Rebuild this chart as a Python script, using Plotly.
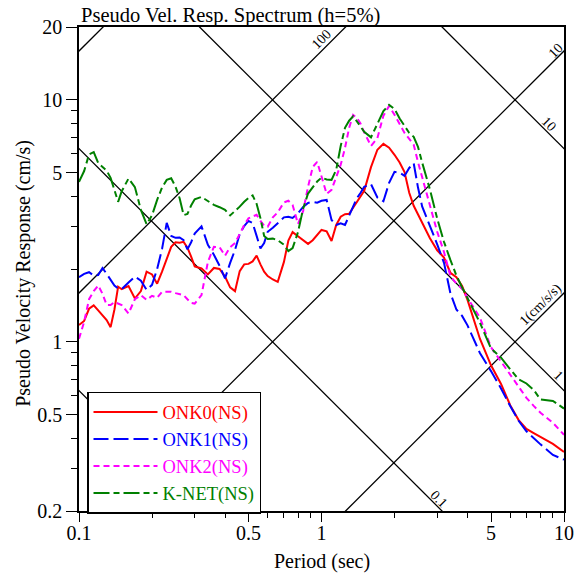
import numpy as np
import plotly.graph_objects as go

# ---------------- data ----------------
period = [0.10, 0.105, 0.11, 0.115, 0.12, 0.125, 0.13, 0.135, 0.14, 0.145, 0.15,
          0.16, 0.17, 0.18, 0.19, 0.20, 0.21, 0.22, 0.23, 0.24, 0.25, 0.26, 0.27, 0.28, 0.29, 0.30,
          0.32, 0.34, 0.36, 0.38, 0.40, 0.42, 0.44, 0.46, 0.48, 0.50, 0.52, 0.54, 0.56, 0.58, 0.60,
          0.63, 0.66, 0.70, 0.73, 0.76, 0.80, 0.84, 0.88, 0.92, 0.96,
          1.0, 1.05, 1.1, 1.15, 1.2, 1.25, 1.3, 1.35, 1.4, 1.45, 1.5,
          1.6, 1.7, 1.8, 1.9, 2.0, 2.1, 2.2, 2.3, 2.4, 2.5, 2.6,
          2.8, 3.0, 3.2, 3.4, 3.6, 3.8, 4.0,
          4.5, 5.0, 5.5, 6.0, 6.5, 7.0, 7.5, 8.0, 9.0, 10.0]

onk0 = [1.175, 1.22, 1.37, 1.415, 1.35, 1.29, 1.23, 1.15, 1.36, 1.69, 1.65,
        1.70, 1.51, 1.62, 1.95, 1.90, 1.74, 1.95, 2.18, 2.47, 2.58, 2.57, 2.59, 2.45, 2.25, 2.05,
        2.01, 1.90, 2.02, 2.00, 1.86, 1.68, 1.62, 1.96, 2.09, 2.10, 2.15, 2.27, 2.09, 1.95, 1.87,
        1.81, 1.77, 2.14, 2.62, 2.84, 2.73, 2.63, 2.54, 2.63, 2.78,
        2.90, 2.86, 2.61, 3.04, 3.29, 3.37, 3.38, 3.58, 3.77, 3.97, 4.21,
        5.27, 6.22, 6.58, 6.34, 5.93, 5.51, 5.03, 4.13, 3.65, 3.37, 3.09,
        2.68, 2.39, 2.23, 1.93, 1.85, 1.70, 1.49,
        1.03, 0.80, 0.67, 0.547, 0.475, 0.437, 0.42, 0.405, 0.379, 0.351]

onk1 = [1.85, 1.91, 1.94, 1.88, 1.89, 2.02, 1.91, 1.81, 1.71, 1.66, 1.65,
        1.76, 1.86, 1.79, 1.64, 1.72, 2.00, 2.42, 3.10, 2.74, 2.69, 2.70, 2.63, 2.41, 2.58, 2.80,
        3.00, 2.52, 2.29, 2.06, 1.83, 2.12, 2.40, 2.79, 3.01, 3.16, 3.10, 2.74, 2.43, 2.56, 2.85,
        2.96, 3.09, 3.27, 3.29, 3.25, 3.40, 3.61, 3.75, 3.79, 3.76,
        3.83, 3.86, 3.19, 3.04, 3.09, 3.04, 3.32, 3.63, 3.93, 4.13, 4.37,
        4.48, 3.95, 3.81, 4.54, 5.04, 5.00, 4.85, 5.23, 5.47, 4.34, 3.63,
        3.02, 2.53, 2.12, 1.59, 1.36, 1.28, 1.17,
        0.90, 0.757, 0.642, 0.543, 0.472, 0.427, 0.399, 0.377, 0.341, 0.326]

onk2 = [1.03, 1.21, 1.50, 1.62, 1.71, 1.58, 1.42, 1.42, 1.46, 1.44, 1.42,
        1.31, 1.50, 1.56, 1.49, 1.55, 1.52, 1.61, 1.61, 1.61, 1.59, 1.58, 1.56, 1.50, 1.45, 1.44,
        1.56, 2.14, 2.47, 2.46, 2.27, 2.46, 2.56, 2.79, 3.04, 3.24, 3.29, 3.35, 3.16, 3.02, 2.99,
        3.27, 3.43, 3.77, 3.83, 3.68, 3.07, 3.47, 4.37, 5.28, 5.54,
        4.86, 4.09, 4.25, 4.76, 5.39, 6.33, 7.66, 8.67, 8.42, 7.96, 7.34,
        6.45, 6.95, 8.60, 9.44, 8.67, 7.88, 7.30, 6.90, 6.52, 5.53, 4.81,
        3.70, 2.85, 2.35, 1.87, 1.74, 1.66, 1.52,
        1.26, 0.95, 0.83, 0.73, 0.65, 0.587, 0.544, 0.509, 0.463, 0.413]

knet = [4.58, 5.08, 5.95, 6.08, 5.48, 5.26, 5.10, 4.76, 4.25, 3.79, 4.19,
        4.73, 4.36, 3.51, 3.06, 3.33, 3.86, 4.34, 4.67, 4.74, 4.38, 3.92, 3.34, 3.38, 3.66, 3.88,
        3.97, 3.82, 3.68, 3.60, 3.51, 3.33, 3.46, 3.62, 3.79, 3.93, 4.03, 3.72, 3.24, 2.74, 2.66,
        2.67, 2.63, 2.52, 2.37, 2.44, 2.84, 3.55, 4.10, 4.33, 4.60,
        4.77, 4.69, 4.67, 5.14, 6.45, 7.66, 8.20, 8.55, 8.15, 7.77, 7.38,
        7.00, 7.90, 8.98, 9.53, 9.17, 8.37, 7.82, 7.30, 7.04, 6.39, 5.51,
        4.26, 3.23, 2.59, 2.18, 1.88, 1.68, 1.51,
        1.20, 0.94, 0.86, 0.77, 0.70, 0.673, 0.633, 0.578, 0.57, 0.53]

series_names = ["ONK0(NS)", "ONK1(NS)", "ONK2(NS)", "K-NET(NS)"]
series_colors = ["#ff0000", "#0000ff", "#ff00ff", "#008000"]
series_dashes = ["solid", "15px,5px", "6px,4px", "16px,4px,6px,4px"]

# tripartite guide lines
accel_levels = [1, 10, 100, 1000]      # cm/s/s
disp_levels = [0.01, 0.1, 1, 10]       # cm

x_major = [0.1, 0.5, 1, 5, 10]
x_major_text = ["0.1", "0.5", "1", "5", "10"]
x_minor = [0.2, 0.3, 0.4, 0.6, 0.7, 0.8, 0.9, 2, 3, 4, 6, 7, 8, 9]
y_major = [0.2, 0.5, 1, 5, 10, 20]
y_major_text = ["0.2", "0.5", "1", "5", "10", "20"]
y_minor = [0.3, 0.4, 0.6, 0.7, 0.8, 0.9, 2, 3, 4, 6, 7, 8, 9]

FONT = "Liberation Serif, Times New Roman, serif"
W2PI = 2 * np.pi

fig = go.Figure()

Tline = np.array([0.01, 100.0])
for a in accel_levels:
    fig.add_trace(go.Scatter(x=Tline, y=a * Tline / W2PI, mode="lines",
                             line=dict(color="black", width=1.3),
                             showlegend=False, hoverinfo="skip"))
for d in disp_levels:
    fig.add_trace(go.Scatter(x=Tline, y=W2PI * d / Tline, mode="lines",
                             line=dict(color="black", width=1.3),
                             showlegend=False, hoverinfo="skip"))

for name, vals, col, dash in zip(series_names, [onk0, onk1, onk2, knet],
                                 series_colors, series_dashes):
    fig.add_trace(go.Scatter(
        x=period, y=vals, mode="lines",
        name='<span style="color:%s">%s</span>' % (col, name),
        line=dict(color=col, width=2, dash=dash)))

# guide-line labels
annots = []
def acc_label(text, a, T, dx, dy):
    annots.append(dict(x=np.log10(T), y=np.log10(a * T / W2PI), text=text,
                       showarrow=False, textangle=-45, xshift=dx, yshift=dy,
                       font=dict(size=14, family=FONT, color="black")))
def disp_label(text, d, T, dx, dy):
    annots.append(dict(x=np.log10(T), y=np.log10(W2PI * d / T), text=text,
                       showarrow=False, textangle=45, xshift=dx, yshift=dy,
                       font=dict(size=14, family=FONT, color="black")))

acc_label("100", 100, 1.054, -6, 6)
acc_label("10", 10, 9.63, -4, 4)
acc_label("1(cm/s/s)", 1, 8.4, -5, 6)
disp_label("10", 10, 8.3, 5, 5)
disp_label("1", 1, 9.05, 5, 5)
disp_label("0.1", 0.1, 2.95, 4, 5)

annots.append(dict(xref="paper", yref="paper", x=0.0, y=1.0, xanchor="left",
                   yanchor="bottom", yshift=-2, showarrow=False,
                   text="Pseudo Vel. Resp. Spectrum (h=5%)",
                   font=dict(size=20.5, family=FONT, color="black")))
annots.append(dict(xref="paper", yref="paper", x=0.5, y=0, yanchor="middle",
                   yshift=-50, showarrow=False, text="Period (sec)",
                   font=dict(size=20, family=FONT, color="black")))
annots.append(dict(xref="paper", yref="paper", x=0, y=0.49, xanchor="center",
                   yanchor="middle", xshift=-55, showarrow=False, textangle=-90,
                   text="Pseudo Velocity Response (cm/s)",
                   font=dict(size=20, family=FONT, color="black")))

axis_common = dict(type="log", showline=True, linecolor="black", linewidth=1.6,
                   mirror=True, ticks="outside", tickcolor="black", tickwidth=1.4,
                   showgrid=False, zeroline=False, automargin=False,
                   tickfont=dict(size=20, family=FONT, color="black"))

fig.update_layout(
    template="none",
    width=578, height=579,
    margin=dict(l=79, r=14, t=27, b=68, autoexpand=False),
    paper_bgcolor="white", plot_bgcolor="white",
    font=dict(family=FONT, size=20, color="black"),
    xaxis=dict(range=[-1, 1], tickvals=x_major, ticktext=x_major_text, ticklen=9,
               ticklabelstandoff=-6,
               minor=dict(tickvals=x_minor, ticks="outside", ticklen=5,
                          tickwidth=1.4, tickcolor="black", showgrid=False),
               **axis_common),
    yaxis=dict(range=[np.log10(0.2), np.log10(20)], tickvals=y_major,
               ticktext=y_major_text, ticklen=11,
               minor=dict(tickvals=y_minor, ticks="outside", ticklen=6,
                          tickwidth=1.4, tickcolor="black", showgrid=False),
               **axis_common),
    legend=dict(x=0.0165, y=0.246, xanchor="left", yanchor="top",
                bgcolor="white", bordercolor="black", borderwidth=1.5,
                font=dict(size=18.5, family=FONT), itemwidth=64, tracegroupgap=0),
    annotations=annots,
    showlegend=True,
)

# remove the page's default 8px body margin so the figure fills the window
fig.write_html("out.html", config={"displayModeBar": False},
               post_script="document.body.style.margin='0px';")
